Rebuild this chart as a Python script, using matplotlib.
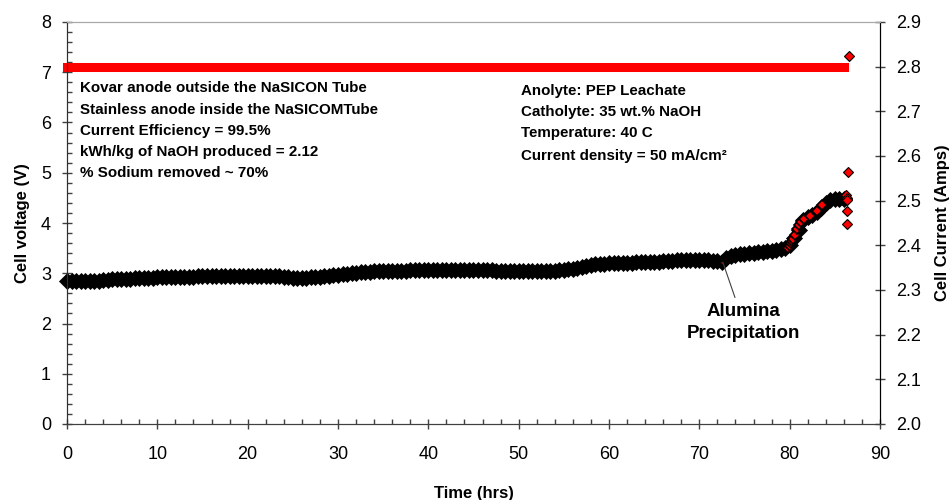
import numpy as np
import matplotlib.pyplot as plt
from matplotlib.ticker import MultipleLocator

plt.rcParams['font.family'] = ['Liberation Sans', 'DejaVu Sans']

# Cell voltage logged every half hour (V)
hours = np.arange(0, 86.5, 0.5)
voltage = [
    2.85, 2.85, 2.85, 2.85, 2.85, 2.85, 2.85, 2.85, 2.86, 2.87,
    2.88, 2.89, 2.89, 2.89, 2.89, 2.90, 2.90, 2.90, 2.90, 2.91,
    2.92, 2.92, 2.92, 2.92, 2.92, 2.93, 2.93, 2.93, 2.93, 2.94,
    2.95, 2.95, 2.95, 2.95, 2.95, 2.95, 2.95, 2.95, 2.95, 2.95,
    2.95, 2.95, 2.95, 2.95, 2.94, 2.94, 2.94, 2.94, 2.93, 2.92,
    2.91, 2.91, 2.91, 2.91, 2.92, 2.92, 2.93, 2.94, 2.95, 2.96,
    2.97, 2.98, 2.99, 3.00, 3.01, 3.02, 3.03, 3.03, 3.04, 3.05,
    3.05, 3.05, 3.05, 3.05, 3.05, 3.05, 3.06, 3.06, 3.06, 3.07,
    3.07, 3.07, 3.07, 3.07, 3.07, 3.07, 3.07, 3.07, 3.07, 3.07,
    3.07, 3.07, 3.07, 3.06, 3.06, 3.05, 3.05, 3.05, 3.04, 3.04,
    3.04, 3.04, 3.04, 3.04, 3.04, 3.04, 3.04, 3.05, 3.05, 3.06,
    3.07, 3.08, 3.09, 3.10, 3.12, 3.14, 3.16, 3.18, 3.19, 3.19,
    3.20, 3.20, 3.20, 3.21, 3.21, 3.21, 3.22, 3.22, 3.22, 3.22,
    3.23, 3.23, 3.24, 3.25, 3.25, 3.26, 3.26, 3.26, 3.26, 3.26,
    3.26, 3.26, 3.26, 3.25, 3.25, 3.23, 3.31, 3.35, 3.37, 3.38,
    3.39, 3.40, 3.41, 3.42, 3.43, 3.44, 3.45, 3.46, 3.48, 3.50,
    3.56, 3.70, 3.86, 4.06, 4.12, 4.16, 4.22, 4.30, 4.40, 4.45,
    4.47, 4.47, 4.48,
]

# extra readings during the final voltage rise and shutdown
rise_hours = [79.8, 80.0, 80.2, 80.3, 80.4, 80.6, 80.8, 81.0, 81.2, 81.6, 82.2, 83.0, 83.6]
rise_voltage = [3.50, 3.55, 3.60, 3.64, 3.68, 3.76, 3.88, 3.96, 4.02, 4.08, 4.14, 4.24, 4.36]
end_hours = [86.2, 86.3, 86.4, 86.4, 86.4, 86.5]
end_voltage = [4.55, 4.50, 4.46, 4.24, 3.99, 5.01]

# Cell current (Amps)
current = [2.80] * len(hours)
end_current_hours = [86.6]
end_current = [2.824]

left_notes = ["Kovar anode outside the NaSICON Tube",
              "Stainless anode inside the NaSICOMTube",
              "Current Efficiency = 99.5%",
              "kWh/kg of NaOH produced = 2.12",
              "% Sodium removed ~ 70%"]
left_notes_y = [6.69, 6.25, 5.83, 5.41, 5.0]
right_notes = ["Anolyte: PEP Leachate",
               "Catholyte: 35 wt.% NaOH",
               "Temperature: 40 C",
               "Current density = 50 mA/cm\u00b2"]
right_notes_y = [6.63, 6.21, 5.79, 5.33]

fig = plt.figure(figsize=(9.53, 5), dpi=100)
ax = fig.add_axes([0.0703, 0.152, 0.8531, 0.804])
ax2 = ax.twinx()

# voltage: dense red diamonds with black edges, overlapping into a band
ax.plot(hours, voltage, linestyle='none', marker='D', ms=4.8, mfc='red',
        mec='black', mew=3.6, clip_on=False, zorder=3)
ax.plot(rise_hours, rise_voltage, linestyle='none', marker='D', ms=5.0, mfc='red',
        mec='black', mew=1.2, zorder=4)
ax.plot(end_hours, end_voltage, linestyle='none', marker='D', ms=5.4, mfc='red',
        mec='black', mew=0.8, zorder=4)

# current on the right axis
ax2.plot(hours, current, color='red', lw=6.5, solid_capstyle='projecting',
         clip_on=False)
ax2.plot(end_current_hours, end_current, linestyle='none', marker='D', ms=5.4,
         mfc='red', mec='black', mew=0.8)

ax.set_xlim(0, 90)
ax.set_ylim(0, 8)
ax2.set_ylim(2.0, 2.9)

ax.xaxis.set_major_locator(MultipleLocator(10))
ax.xaxis.set_minor_locator(MultipleLocator(2))
ax.yaxis.set_major_locator(MultipleLocator(1))
ax.yaxis.set_minor_locator(MultipleLocator(0.2))
ax2.yaxis.set_major_locator(MultipleLocator(0.1))

ax.tick_params(which='major', direction='inout', length=7, width=1, color='#404040',
               labelsize=13, pad=12)
ax.tick_params(axis='y', which='major', pad=8)
ax.tick_params(which='minor', direction='in', length=3.5, width=1, color='#404040')
ax.tick_params(axis='x', which='both', top=False)
ax.tick_params(axis='y', which='both', right=False)
ax2.tick_params(which='major', direction='inout', length=7, width=1, color='#404040',
                labelsize=13, pad=8)
ax2.tick_params(which='minor', length=0)

for a in (ax, ax2):
    a.spines['top'].set_color('#a8a8a8')
    a.spines['bottom'].set_color('#404040')
    a.spines['left'].set_color('#303030')
    a.spines['right'].set_color('black')

ax.set_xlabel('Time (hrs)', fontsize=12, fontweight='bold', labelpad=17)
ax.set_ylabel('Cell voltage (V)', fontsize=12, fontweight='bold', labelpad=8)
ax2.set_ylabel('Cell Current (Amps)', fontsize=12, fontweight='bold', labelpad=10)

for txt, y in zip(left_notes, left_notes_y):
    ax.text(1.45, y, txt, fontsize=10.9, fontweight='bold', va='center', ha='left')
for txt, y in zip(right_notes, right_notes_y):
    ax.text(50.3, y, txt, fontsize=10.9, fontweight='bold', va='center', ha='left')

ax.annotate('Alumina\nPrecipitation', xy=(72.6, 3.22), xytext=(74.9, 2.02),
            fontsize=13.5, fontweight='bold', ha='center', va='center',
            linespacing=1.4,
            arrowprops=dict(arrowstyle='-', color='#404040', lw=0.8,
                            shrinkA=2, shrinkB=0))

fig.savefig('out.png', dpi=100)
